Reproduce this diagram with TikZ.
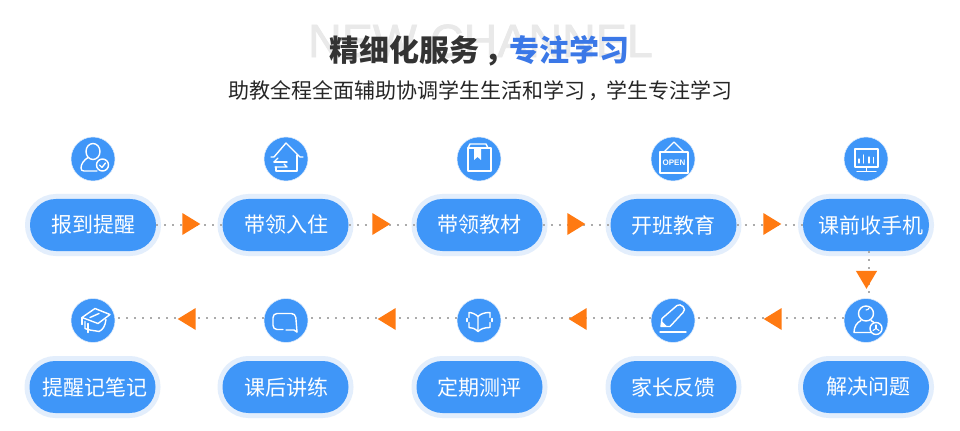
\documentclass[tikz,border=0pt]{standalone}
\usepackage{fontspec}
\setmainfont{Liberation Sans}
\newfontfamily\cjk{Noto Sans CJK SC}
\newfontfamily\ghostfont[FakeBold=1.5]{Liberation Sans}
\usetikzlibrary{shapes.geometric}
\definecolor{pillblue}{HTML}{3F96F8}
\definecolor{halo}{HTML}{E3EEFC}
\definecolor{orng}{HTML}{FF7A12}
\definecolor{ttlblue}{HTML}{3B78E7}
\definecolor{ink}{HTML}{333333}
\definecolor{ghost}{HTML}{E9E9E9}
\definecolor{dotgray}{HTML}{ABABAB}
\tikzset{
  x=.75pt,y=-.75pt,
  pill/.style={rectangle,rounded corners=19.4pt,minimum width=94.5pt,minimum height=39pt,inner sep=0pt,
    fill=pillblue,text=white,font=\cjk\fontsize{15.75pt}{18pt}\selectfont,
    preaction={draw=halo,line width=7.5pt}},
  iconbg/.style={circle,fill=pillblue,draw=halo,line width=.4pt,minimum size=33pt,inner sep=0pt},
  link/.style={draw=dotgray,line width=1.3pt,dash pattern=on 1.4pt off 4.6pt},
  tri/.style={isosceles triangle,isosceles triangle stretches,fill=orng,inner sep=0pt,minimum width=16.5pt,minimum height=13.5pt},
  tright/.style={tri,shape border rotate=0,anchor=apex},
  tleft/.style={tri,shape border rotate=180,anchor=apex},
  tdown/.style={tri,shape border rotate=-90,anchor=apex},
  ic/.style={draw=white,line width=1.05pt,line cap=round,line join=round},
  icthin/.style={draw=white,line width=.8pt,line cap=round,line join=round},
}
\begin{document}
\begin{tikzpicture}
\useasboundingbox (0,0) rectangle (960,431);
\fill[white] (0,0) rectangle (960,431);
% heading
\node[font=\ghostfont\fontsize{35pt}{40pt}\selectfont,text=ghost,inner sep=0pt] (ghosttitle) at (480.5,41) {NEW CHANNEL};
\node[font=\cjk\bfseries\fontsize{22.5pt}{26pt}\selectfont,text=ink,inner sep=0pt] (title) at (479,51) {精细化服务\hspace*{4pt}，\hspace*{-4pt}\textcolor{ttlblue}{专注学习}};
\node[font=\cjk\fontsize{15.75pt}{18pt}\selectfont,text=black!85,inner sep=0pt] (subtitle) at (480,91) {助教全程全面辅助协调学生生活和学习\hspace*{3pt}，\hspace*{-3pt}学生专注学习};
% icons backgrounds
\node[iconbg] (ia) at (93,159) {};
\node[iconbg] (ib) at (286,159) {};
\node[iconbg] (ic) at (479,159) {};
\node[iconbg] (id) at (673,159) {};
\node[iconbg] (ie) at (866,159) {};
\node[iconbg] (if) at (866,320.5) {};
\node[iconbg] (ig) at (673,320.5) {};
\node[iconbg] (ih) at (479,320.5) {};
\node[iconbg] (ii) at (286,320.5) {};
\node[iconbg] (ij) at (93,320.5) {};
% pills
\node[pill] (pa) at (93,225) {\hspace*{1pt}报到提醒};
\node[pill] (pb) at (285.5,225) {\hspace*{2pt}带领入住};
\node[pill] (pc) at (479.5,225) {带领教材};
\node[pill] (pd) at (673.5,225) {开班教育};
\node[pill] (pe) at (866,225) {\hspace*{7pt}课前收手机};
\node[pill] (pf) at (866,387) {\hspace*{4pt}解决问题};
\node[pill] (pg) at (673.5,387) {家长反馈};
\node[pill] (ph) at (479.5,387) {定期测评};
\node[pill] (pi) at (285.5,387) {\hspace*{2pt}课后讲练};
\node[pill] (pj) at (92.5,387) {\hspace*{4pt}提醒记笔记};
% connectors
\draw[link] (pa.east) -- (pb.west);
\draw[link] (pb.east) -- (pc.west);
\draw[link] (pc.east) -- (pd.west);
\draw[link] (pd.east) -- (pe.west);
\draw[link] ([xshift=2.2pt]pe.south) -- ([xshift=2.2pt]if.north);
\draw[link] ([yshift=2pt]if.west) -- ([yshift=2pt]ig.east);
\draw[link] ([yshift=2pt]ig.west) -- ([yshift=2pt]ih.east);
\draw[link] ([yshift=2pt]ih.west) -- ([yshift=2pt]ii.east);
\draw[link] ([yshift=2pt]ii.west) -- ([yshift=2pt]ij.east);
% arrowheads
\node[tright] (ta) at (201,224) {};
\node[tright] (tb) at (391,224) {};
\node[tright] (tc) at (586,224) {};
\node[tright] (td) at (782,224) {};
\node[tdown,minimum width=16pt] (te) at (866.5,289.5) {};
\node[tleft] (tf) at (763,319) {};
\node[tleft] (tg) at (568,319) {};
\node[tleft] (th) at (377,319) {};
\node[tleft] (ti) at (177,319) {};
% icon a: person with check
\begin{scope}[shift={(ia.center)}]
  \draw[ic] (0,-7.5) ellipse (7 and 8);
  \draw[ic] (-5,-1.5) .. controls (-9,1) and (-12,5) .. (-12,9) .. controls (-12,11) and (-11,12) .. (-9,12) -- (4,12);
  \draw[ic,fill=pillblue] (9.5,6) circle (6);
  \draw[ic] (6.5,6) -- (9,8.5) -- (12.5,4);
\end{scope}
% icon b: house with arrows
\begin{scope}[shift={(ib.center)}]
  \draw[ic] (-15,-2) -- (-12,-2) -- (0,-16) -- (14,-2) -- (17,-2);
  \draw[ic] (11,-4) -- (11,12) -- (-10,12) -- (-10,8);
  \draw[ic] (-12,3) -- (-8,-1);
  \draw[ic] (-12,3) -- (1,3);
  \draw[ic] (-11,8) -- (1,8) -- (-2,5);
\end{scope}
% icon c: book
\begin{scope}[shift={(ic.center)}]
  \draw[ic] (-11,-11) rectangle (12,12);
  \draw[ic] (-11,-11) -- (-9,-15) -- (7,-15) -- (9,-11);
  \fill[white] (-5,-11) -- (2,-11) -- (2,1) -- (-1.5,-2) -- (-5,1) -- cycle;
\end{scope}
% icon d: open sign
\begin{scope}[shift={(id.center)}]
  \draw[ic] (-13,-7) rectangle (15,14);
  \draw[ic] (-9,-7) -- (1,-17) -- (11,-7);
  \node[text=white,font=\bfseries\fontsize{6pt}{6pt}\selectfont,inner sep=0pt] (openlabel) at (1,3.5) {OPEN};
\end{scope}
% icon e: monitor
\begin{scope}[shift={(ie.center)}]
  \draw[ic] (-11,-10) rectangle (12,8);
  \draw[ic] (0.5,8) -- (0.5,12);
  \draw[ic] (-9,12.5) -- (10,12.5);
  \draw[icthin] (-7,4) -- (-7,0);
  \draw[icthin] (-2.5,4) -- (-2.5,-4);
  \draw[icthin] (3,4) -- (3,-2);
  \draw[icthin] (7.5,4) -- (7.5,-1.5);
\end{scope}
% icon f: person with clock
\begin{scope}[shift={(if.center)}]
  \draw[ic] (0,-7) circle (7.5);
  \draw[icthin] (0,-10.5) arc (90:20:3.5);
  \draw[ic] (-5,0) .. controls (-9,2) and (-12,6) .. (-12,12) -- (6,12);
  \draw[ic] (5,0) .. controls (6,0.5) and (7,1) .. (8,2);
  \draw[ic,fill=pillblue] (10,8) circle (6);
  \draw[icthin] (10,8) -- (10,4.5);
  \draw[icthin] (10,8) -- (7,10);
  \draw[icthin] (10,8) -- (13,10);
\end{scope}
% icon g: pencil
\begin{scope}[shift={(ig.center)}]
  \draw[ic] (-11,-2) -- (4,-15) .. controls (6,-16) and (8,-16) .. (10,-14) .. controls (12,-12) and (12,-10) .. (10,-8) -- (-3,6) -- (-12,6) -- cycle;
  \fill[white] (-11,1) -- (-6,6) -- (-12,6) -- cycle;
  \draw[ic] (-13,11.5) -- (13,11.5);
\end{scope}
% icon h: open book
\begin{scope}[shift={(ih.center)}]
  \draw[ic] (-1,-4) .. controls (-4,-7) and (-8,-8) .. (-10,-8) -- (-10,-3);
  \draw[ic] (-10,2) -- (-10,7) .. controls (-7,7) and (-4,8) .. (-1,11) -- (-1,-4);
  \draw[ic] (-1,-4) .. controls (2,-7) and (6,-8) .. (11,-8) -- (11,-3);
  \draw[ic] (11,2) -- (11,7) .. controls (6,7) and (2,8) .. (-1,11);
  \draw[ic] (-12,-2) -- (-12,1);
  \draw[ic] (13,-2) -- (13,1);
\end{scope}
% icon i: chat bubble
\begin{scope}[shift={(ii.center)}]
  \draw[ic,rounded corners=3pt] (-3,9) -- (-13,9) -- (-13,-7) -- (9.5,-7) -- (11,11.5);
  \draw[ic] (0,9.5) -- (8,9.5) -- (11,11.5);
\end{scope}
% icon j: graduation cap
\begin{scope}[shift={(ij.center)}]
  \draw[ic] (-11,-3) -- (2,-12) -- (17,-6) -- (5,3) -- cycle;
  \draw[ic] (-11,-3) -- (-11,4);
  \draw[ic] (-8,1) -- (-8,8) .. controls (-4,10) and (2,10) .. (6,11);
  \draw[ic] (6,11) .. controls (10,9) and (12,6) .. (13,-1);
  \draw[ic] (-3,-3) -- (6,-7);
  \draw[ic] (-5,3) -- (-5,12);
\end{scope}
\end{tikzpicture}
\end{document}
